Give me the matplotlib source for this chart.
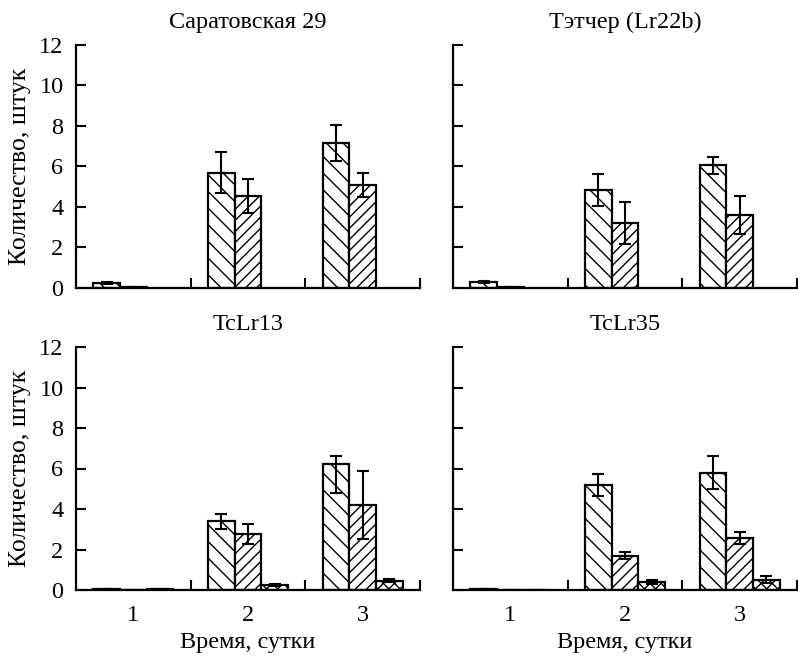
import matplotlib
matplotlib.use("Agg")
import matplotlib.pyplot as plt
import numpy as np

plt.rcParams['font.family'] = ['Liberation Serif', 'DejaVu Serif']
plt.rcParams['font.size'] = 17.5
plt.rcParams['hatch.linewidth'] = 1.0

categories = ['1', '2', '3']
titles = ['Саратовская 29', 'Тэтчер (Lr22b)', 'TcLr13', 'TcLr35']
ylabel = 'Количество, штук'
xlabel = 'Время, сутки'
yticks = [0, 2, 4, 6, 8, 10, 12]

# Саратовская 29
sar_a = [0.25, 5.7, 7.15]
sar_a_lo = [0.05, 1.0, 0.9]
sar_a_hi = [0.05, 1.0, 0.9]
sar_b = [0.05, 4.55, 5.1]
sar_b_lo = [0.0, 0.85, 0.6]
sar_b_hi = [0.0, 0.85, 0.6]

# Тэтчер (Lr22b)
tet_a = [0.28, 4.85, 6.05]
tet_a_lo = [0.05, 0.8, 0.4]
tet_a_hi = [0.05, 0.8, 0.4]
tet_b = [0.03, 3.2, 3.6]
tet_b_lo = [0.0, 1.05, 0.95]
tet_b_hi = [0.0, 1.05, 0.95]

# TcLr13
l13_a = [0.05, 3.4, 6.2]
l13_a_lo = [0.0, 0.4, 1.4]
l13_a_hi = [0.0, 0.35, 0.43]
l13_b = [0.0, 2.75, 4.2]
l13_b_lo = [0.0, 0.5, 1.67]
l13_b_hi = [0.0, 0.5, 1.67]
l13_c = [0.05, 0.25, 0.45]
l13_c_lo = [0.0, 0.07, 0.07]
l13_c_hi = [0.0, 0.07, 0.07]

# TcLr35
l35_a = [0.05, 5.2, 5.8]
l35_a_lo = [0.02, 0.55, 0.8]
l35_a_hi = [0.02, 0.55, 0.8]
l35_b = [0.02, 1.7, 2.55]
l35_b_lo = [0.0, 0.18, 0.3]
l35_b_hi = [0.0, 0.18, 0.3]
l35_c = [0.0, 0.4, 0.5]
l35_c_lo = [0.0, 0.1, 0.17]
l35_c_hi = [0.0, 0.1, 0.17]

panels = [
    [(sar_a, sar_a_lo, sar_a_hi), (sar_b, sar_b_lo, sar_b_hi)],
    [(tet_a, tet_a_lo, tet_a_hi), (tet_b, tet_b_lo, tet_b_hi)],
    [(l13_a, l13_a_lo, l13_a_hi), (l13_b, l13_b_lo, l13_b_hi), (l13_c, l13_c_lo, l13_c_hi)],
    [(l35_a, l35_a_lo, l35_a_hi), (l35_b, l35_b_lo, l35_b_hi), (l35_c, l35_c_lo, l35_c_hi)],
]
hatches = ['\\\\', '///', 'xxx']

fig = plt.figure(figsize=(7.98, 6.58), dpi=100)
W, H = 798.0, 658.0
lefts = [76, 453]
tops = [45, 347]
bottoms = [288, 590]
aw = 344

bw = 0.233
centers = np.arange(len(categories)) + 0.5

for idx in range(4):
    r, c = divmod(idx, 2)
    ax = fig.add_axes([lefts[c] / W, (H - bottoms[r]) / H, aw / W, (bottoms[r] - tops[r]) / H])
    for k, (vals, lo, hi) in enumerate(panels[idx]):
        x = centers + (k - 1) * bw
        ax.bar(x, vals, width=bw, color='white', edgecolor='black', linewidth=1.6,
               hatch=hatches[k], zorder=2)
        ax.errorbar(x, vals, yerr=[lo, hi], fmt='none', ecolor='black', elinewidth=1.5,
                    capsize=4.5, capthick=1.5, zorder=3)
    ax.set_xlim(0, 3)
    ax.set_ylim(0, 12)
    for s in ['top', 'right']:
        ax.spines[s].set_visible(False)
    for s in ['left', 'bottom']:
        ax.spines[s].set_linewidth(1.6)
    ax.set_yticks(yticks)
    ax.set_xticks([1, 2, 3])
    ax.set_xticklabels([])
    ax.set_xticks(centers, minor=True)
    ax.tick_params(axis='both', which='major', direction='in', length=7.5, width=1.5)
    ax.tick_params(axis='x', which='minor', length=0, pad=11)
    ax.tick_params(axis='y', pad=9)
    if r == 1:
        ax.set_xticklabels(categories, minor=True)
        ax.set_xlabel(xlabel, labelpad=4)
    else:
        ax.set_xticklabels([], minor=True)
    if c == 0:
        ax.set_ylabel(ylabel, labelpad=6, fontsize=18.5)
    else:
        ax.set_yticklabels([])
    ax.set_title(titles[idx], pad=12, fontsize=17.5)

fig.savefig('out.png', dpi=100)
